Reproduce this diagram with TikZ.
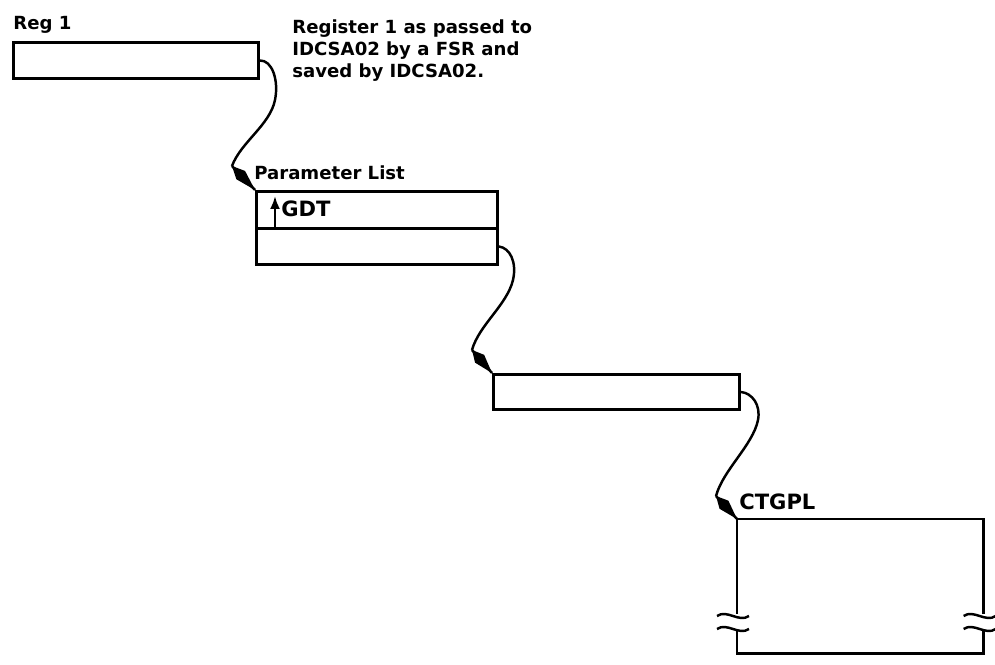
\documentclass[tikz,border=0pt]{standalone}
\usepackage{fontspec}
\setmainfont{DejaVu Sans}
\usetikzlibrary{calc,arrows.meta}
\newcommand\kitehead[2]{%
  \fill ($(#1)$) -- ($(#1)!0.38!(#2)!1.2mm!90:(#2)$) -- (#2)
        -- ($(#1)!0.38!(#2)!1.2mm!-90:(#2)$) -- cycle;
  \draw[link] (#1) -- (#2);}
\begin{document}
\begin{tikzpicture}[x=0.02cm,y=-0.02cm,
  box/.style={draw,line width=1.7pt,inner sep=0pt,anchor=north west},
  link/.style={line width=1.4pt},
  lbl/.style={inner sep=0pt,anchor=base west,font=\fontsize{10.3}{12.5}\selectfont\bfseries},
  biglbl/.style={inner sep=0pt,anchor=base west,font=\fontsize{12}{14}\selectfont\bfseries}]
\useasboundingbox (0,0) rectangle (995,665);

% Reg 1
\node[lbl] (reglbl) at (13,30) {Reg 1};
\node[box,minimum width=4.9cm,minimum height=0.72cm] (reg) at (12,41) {};
\node[inner sep=0pt,anchor=north west,align=left,
      font=\fontsize{10.3}{12.5}\selectfont\bfseries] (note) at (292,19)
  {Register 1 as passed to\\IDCSA02 by a FSR and\\saved by IDCSA02.};

% Parameter list
\node[lbl] (pllbl) at (254,180) {Parameter List};
\node[box,minimum width=4.82cm,minimum height=0.74cm] (pltop) at (255,190) {};
\node[box,minimum width=4.82cm,minimum height=0.72cm] (plbot) at (255,227) {};
\coordinate (gdtbase) at (275,227);
\coordinate (gdttip) at (275,196);
\draw[line width=1.4pt,-{Latex[length=2.6mm,width=2.0mm]}] (gdtbase) -- (gdttip);
\node[biglbl] (gdt) at (281,217) {GDT};

% third box
\node[box,minimum width=4.92cm,minimum height=0.70cm] (b3) at (492,373) {};

% CTGPL
\node[biglbl] (ctglbl) at (739,510) {CTGPL};
\node[inner sep=0pt,anchor=north west,minimum width=4.92cm,minimum height=2.68cm] (ctg) at (737,519) {};
\coordinate (L1) at ($(ctg.north west)+(0,95)$);
\coordinate (L2) at ($(ctg.north west)+(0,112)$);
\coordinate (R1) at ($(ctg.north east)+(0,95)$);
\coordinate (R2) at ($(ctg.north east)+(0,112)$);
\draw[line width=1.7pt] (L1) -- (ctg.north west) -- (ctg.north east) -- (R1);
\draw[line width=1.7pt] (R2) -- (ctg.south east) -- (ctg.south west) -- (L2);
\foreach \c/\dy in {L1/2,L2/-2,R1/2,R2/-2}{
  \draw[line width=1.4pt] ($(\c)+(-20,\dy)$) .. controls +(10,-7) and +(-10,7) .. ($(\c)+(12,\dy)$);
}

% connectors
\coordinate (t1) at (232,166);
\coordinate (t2) at (472,350);
\coordinate (t3) at (716,496);
\draw[link] (reg.east) .. controls (272,60) and (279,80) .. (275,100)
   .. controls (270,125) and (241,142) .. (t1);
\kitehead{t1}{pltop.north west}
\draw[link] (plbot.east) .. controls (510,248) and (517,262) .. (513,280)
   .. controls (507,305) and (479,325) .. (t2);
\kitehead{t2}{b3.north west}
\draw[link] (b3.east) .. controls (752,393) and (761,405) .. (758,420)
   .. controls (753,445) and (723,470) .. (t3);
\kitehead{t3}{ctg.north west}
\end{tikzpicture}
\end{document}
